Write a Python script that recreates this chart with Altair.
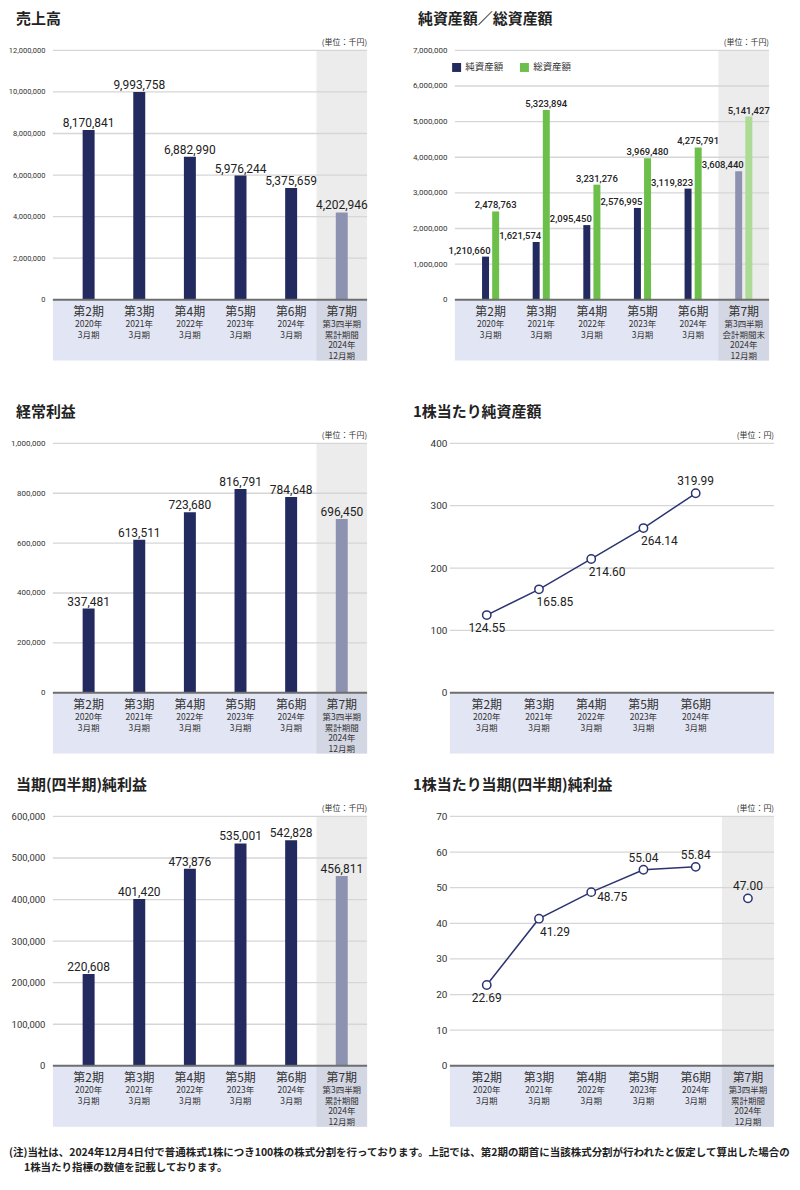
import altair as alt
import pandas as pd

# ---------------- data ----------------
periods = ["第2期", "第3期", "第4期", "第5期", "第6期", "第7期"]
period_sub = ["2020年\n3月期", "2021年\n3月期", "2022年\n3月期", "2023年\n3月期",
              "2024年\n3月期", "第3四半期\n累計期間\n2024年\n12月期"]
period_sub_bs = period_sub[:5] + ["第3四半期\n会計期間末\n2024年\n12月期"]
period_kind = ["通期", "通期", "通期", "通期", "通期", "四半期"]

sales = [8170841, 9993758, 6882990, 5976244, 5375659, 4202946]
net_assets = [1210660, 1621574, 2095450, 2576995, 3119823, 3608440]
total_assets = [2478763, 5323894, 3231276, 3969480, 4275791, 5141427]
ordinary_income = [337481, 613511, 723680, 816791, 784648, 696450]
bps = [124.55, 165.85, 214.60, 264.14, 319.99]
net_income = [220608, 401420, 473876, 535001, 542828, 456811]
eps = [22.69, 41.29, 48.75, 55.04, 55.84, 47.00]

sales_ticks = [0, 2000000, 4000000, 6000000, 8000000, 10000000, 12000000]
bs_ticks = [0, 1000000, 2000000, 3000000, 4000000, 5000000, 6000000, 7000000]
oi_ticks = [0, 200000, 400000, 600000, 800000, 1000000]
bps_ticks = [0, 100, 200, 300, 400]
ni_ticks = [0, 100000, 200000, 300000, 400000, 500000, 600000]
eps_ticks = [0, 10, 20, 30, 40, 50, 60, 70]

series_names = ["純資産額", "総資産額"]
titles = ["売上高", "純資産額／総資産額", "経常利益", "1株当たり純資産額",
          "当期(四半期)純利益", "1株当たり当期(四半期)純利益"]
unit_k = "(単位：千円)"
unit_y = "(単位：円)"
footnote = ["(注)当社は、2024年12月4日付で普通株式1株につき100株の株式分割を行っております。上記では、第2期の期首に当該株式分割が行われたと仮定して算出した場合の",
            "1株当たり指標の数値を記載しております。"]

# ---------------- style ----------------
NAVY = "#232a5f"
NAVY_L = "#8e92b1"
GREEN = "#6cbf4a"
GREEN_L = "#acdb95"
SHADE = "#ececec"
BAND = "#e2e5f4"
BAND_D = "#d3d6e3"
GRID = "#d6d6d6"
BASE = "#6e6e6e"
LINE = "#2c3371"
TXT = "#222222"
CJK = "Noto Sans CJK JP"
ROBOTO = "Roboto"

W = 325
H_MAIN = 250
H_BAND = 61
positions = list(range(1, 7))
X_LO = positions[0] - 0.706
X_HI = positions[-1] + 0.5

one = pd.DataFrame({"o": [0]})


def cat_df(subs, n=6):
    return pd.DataFrame({"pos": positions[:n], "period": periods[:n],
                         "sub": subs[:n], "kind": period_kind[:n]})


class Frame:
    def __init__(self, cat, ymax, ticks, title, unit, axis_size, fmt, shade=True, top_extra=0):
        self.ylo = -ymax * H_BAND / H_MAIN
        yhi = ymax * (H_MAIN + top_extra) / H_MAIN
        self.xs = alt.Scale(domain=[X_LO, X_HI], nice=False, zero=False)
        self.ys = alt.Scale(domain=[self.ylo, yhi], nice=False, zero=False)
        self.yaxis = alt.Axis(values=ticks, format=fmt, grid=False, domain=False, ticks=False,
                              labelFont=ROBOTO, labelFontSize=axis_size, labelColor="#333333",
                              labelPadding=3)
        self.height = H_MAIN + H_BAND + top_extra
        L = []
        L.append(alt.Chart(one).mark_rect(color=BAND).encode(
            x=self.XD(X_LO), x2=alt.datum(X_HI), y=self.YD(self.ylo), y2=alt.datum(0)))
        if shade:
            q = alt.Chart(cat).transform_filter("datum.kind == '四半期'").transform_calculate(
                xa="datum.pos - 0.5", xb="datum.pos + 0.5")
            L.append(q.mark_rect(color=BAND_D).encode(
                x=alt.X("xa:Q", scale=self.xs, axis=None), x2="xb:Q",
                y=self.YD(self.ylo), y2=alt.datum(0)))
            L.append(q.mark_rect(color=SHADE).encode(
                x=alt.X("xa:Q", scale=self.xs, axis=None), x2="xb:Q",
                y=self.YD(0), y2=alt.datum(ymax)))
        L.append(alt.Chart(pd.DataFrame({"t": ticks[1:]})).mark_rule(
            color=GRID, strokeWidth=1.3).encode(
            x=self.XD(X_LO), x2=alt.datum(X_HI), y=self.YF("t")))
        self.back = L
        F = []
        F.append(alt.Chart(cat).mark_text(font=CJK, fontSize=12, color="#333333",
                                          baseline="middle", dy=12).encode(
            x=self.XF("pos"), y=self.YD(0), text="period:N"))
        F.append(alt.Chart(cat).mark_text(font=CJK, fontSize=8.5, lineHeight=10.5,
                                          color="#333333", baseline="alphabetic", dy=27.5,
                                          lineBreak="\n").encode(
            x=self.XF("pos"), y=self.YD(0), text="sub:N"))
        F.append(alt.Chart(one).mark_text(text=unit, font=CJK, fontSize=8, color="#333333",
                                          align="right", baseline="middle", dy=-7).encode(
            x=self.XD(X_HI), y=self.YD(ymax)))
        F.append(alt.Chart(one).mark_text(text=title, font=CJK, fontSize=15, fontWeight="bold",
                                          color=TXT, align="left", baseline="middle",
                                          dx=-37, dy=-31).encode(
            x=self.XD(X_LO), y=self.YD(ymax)))
        self.front = F

    def XD(self, v):
        return alt.XDatum(v, scale=self.xs, axis=None)

    def YD(self, v):
        return alt.YDatum(v, scale=self.ys, axis=self.yaxis, title=None)

    def XF(self, f):
        return alt.X(f + ":Q", scale=self.xs, axis=None)

    def YF(self, f):
        return alt.Y(f + ":Q", scale=self.ys, axis=self.yaxis, title=None)

    def baseline(self):
        return alt.Chart(one).mark_rule(color=BASE, strokeWidth=2).encode(
            x=self.XD(X_LO), x2=alt.datum(X_HI), y=self.YD(0))

    def build(self, marks):
        return alt.layer(*(self.back + marks + self.front)).properties(width=W, height=self.height)


def bar_panel(vals, ymax, ticks, title, axis_size, top_extra=0, extra=None):
    cat = cat_df(period_sub)
    df = cat.assign(value=vals)
    fr = Frame(cat, ymax, ticks, title, unit_k, axis_size, ",d", top_extra=top_extra)
    M = []
    M.append(alt.Chart(df).mark_bar(size=12).encode(
        x=fr.XF("pos"), y=fr.YF("value"), y2=alt.datum(0),
        color=alt.Color("kind:N", scale=alt.Scale(domain=["通期", "四半期"], range=[NAVY, NAVY_L]),
                        legend=None)))
    M.append(fr.baseline())
    M.append(alt.Chart(df).mark_text(font=ROBOTO, fontSize=12, color=TXT, baseline="alphabetic",
                                     dy=-3).encode(
        x=fr.XF("pos"), y=fr.YF("value"), text=alt.Text("value:Q", format=",d")))
    if extra:
        M.extend(extra(fr))
    return fr.build(M)


def bs_panel():
    cat = cat_df(period_sub_bs)
    rows = []
    for i in range(6):
        for s, vals, off in ((series_names[0], net_assets, -0.1), (series_names[1], total_assets, 0.1)):
            key = s if period_kind[i] == "通期" else s + "(第7期)"
            rows.append({"pos": positions[i], "xo": positions[i] + off, "series": s,
                         "ckey": key, "value": vals[i]})
    df = pd.DataFrame(rows)
    fr = Frame(cat, 7000000, bs_ticks, titles[1], unit_k, 8, ",d")
    M = []
    M.append(alt.Chart(df).mark_bar(size=7).encode(
        x=fr.XF("xo"), y=fr.YF("value"), y2=alt.datum(0),
        color=alt.Color("ckey:N",
                        scale=alt.Scale(domain=[series_names[0], series_names[1],
                                                series_names[0] + "(第7期)", series_names[1] + "(第7期)"],
                                        range=[NAVY, GREEN, NAVY_L, GREEN_L]),
                        legend=alt.Legend(values=series_names, title=None, orient="none",
                                          legendX=2, legendY=12, direction="horizontal",
                                          symbolType="square", symbolSize=81, symbolStrokeWidth=0,
                                          labelFont=CJK, labelFontSize=9.5, labelColor="#333333",
                                          labelOffset=4, columnPadding=16))))
    M.append(fr.baseline())
    M.append(alt.Chart(df).transform_filter(f"datum.series == '{series_names[0]}'").mark_text(
        font=ROBOTO, fontSize=9.5, fontWeight=500, color=TXT, baseline="alphabetic", align="right",
        dx=5, dy=-3).encode(
        x=fr.XF("xo"), y=fr.YF("value"), text=alt.Text("value:Q", format=",d")))
    M.append(alt.Chart(df).transform_filter(f"datum.series == '{series_names[1]}'").mark_text(
        font=ROBOTO, fontSize=9.5, fontWeight=500, color=TXT, baseline="alphabetic", align="center",
        dy=-3).encode(
        x=fr.XF("xo"), y=fr.YF("value"), text=alt.Text("value:Q", format=",d")))
    return fr.build(M)


OFFS = {"below": (0, 13), "below_right": (16, 13), "right": (21, 5), "above": (0, -12)}


def line_panel(vals, ymax, ticks, title, place, shade, top_extra=0):
    n = len(vals)
    cat = cat_df(period_sub, n)
    df = cat.assign(value=vals)
    fr = Frame(cat, ymax, ticks, title, unit_y, 10, "d", shade=shade, top_extra=top_extra)
    M = [fr.baseline()]
    M.append(alt.Chart(df).transform_filter("datum.kind == '通期'").mark_line(
        color=LINE, strokeWidth=1.5).encode(x=fr.XF("pos"), y=fr.YF("value")))
    M.append(alt.Chart(df).mark_point(shape="circle", filled=True, fill="white", stroke=LINE,
                                      strokeWidth=1.5, size=70, opacity=1).encode(
        x=fr.XF("pos"), y=fr.YF("value")))
    for key, names in place.items():
        dx, dy = OFFS[key]
        M.append(alt.Chart(df).transform_filter(
            alt.FieldOneOfPredicate(field="period", oneOf=names)).mark_text(
            font=ROBOTO, fontSize=12, color=TXT, baseline="middle", dx=dx, dy=dy).encode(
            x=fr.XF("pos"), y=fr.YF("value"), text=alt.Text("value:Q", format=".2f")))
    return fr.build(M)


def footnote_layers(fr):
    return [
        alt.Chart(one).mark_text(text=footnote[0], font=CJK, fontSize=10.5, fontWeight="bold",
                                 color=TXT, align="left", baseline="middle", dx=-44, dy=26).encode(
            x=fr.XD(X_LO), y=fr.YD(fr.ylo)),
        alt.Chart(one).mark_text(text=footnote[1], font=CJK, fontSize=10.5, fontWeight="bold",
                                 color=TXT, align="left", baseline="middle", dx=-29, dy=41).encode(
            x=fr.XD(X_LO), y=fr.YD(fr.ylo)),
    ]


p1 = bar_panel(sales, 12000000, sales_ticks, titles[0], 7.5)
p2 = bs_panel()
p3 = bar_panel(ordinary_income, 1000000, oi_ticks, titles[2], 8, top_extra=20)
p4 = line_panel(bps, 400, bps_ticks, titles[3],
                {"below": ["第2期"], "below_right": ["第3期", "第4期", "第5期"], "above": ["第6期"]},
                shade=False, top_extra=20)
p5 = bar_panel(net_income, 600000, ni_ticks, titles[4], 9.5, extra=footnote_layers)
p6 = line_panel(eps, 70, eps_ticks, titles[5],
                {"below": ["第2期"], "below_right": ["第3期"], "right": ["第4期"],
                 "above": ["第5期", "第6期", "第7期"]},
                shade=True)

chart = alt.concat(p1, p2, p3, p4, p5, p6, columns=2,
                   spacing={"row": 63, "column": 78}, bounds="flush").resolve_scale(
    color="independent").properties(
    padding={"left": 0, "top": 3, "right": 0, "bottom": 0}).configure_view(stroke=None)

chart.save("out.html", embed_options={"renderer": "svg", "actions": False})
